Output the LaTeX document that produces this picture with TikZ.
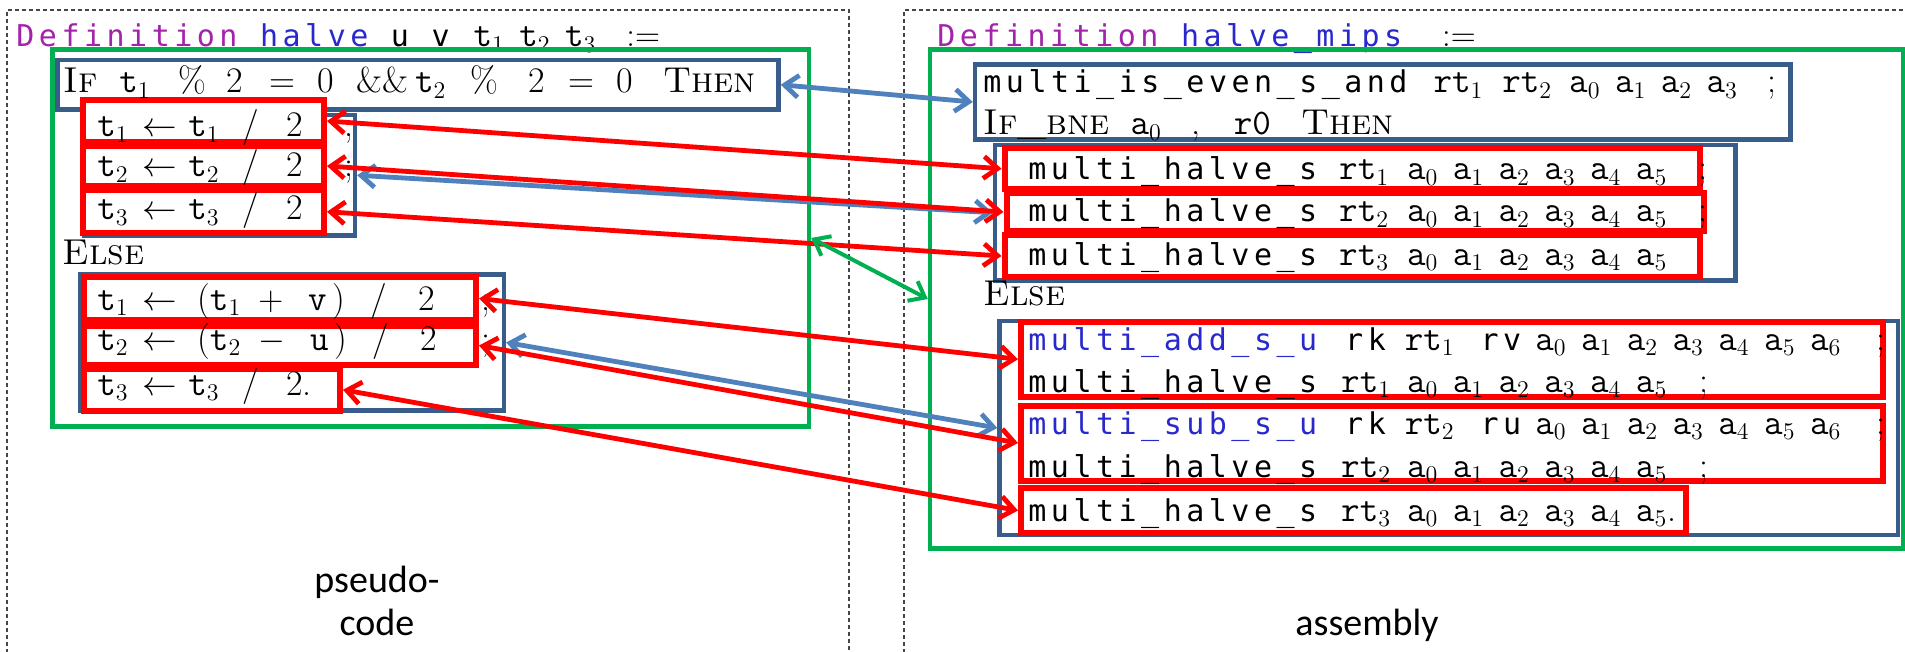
\documentclass[tikz,border=0pt]{standalone}
\usepackage{fontspec}
\usepackage{tikz}
\usetikzlibrary{arrows.meta, fit, positioning}

\newfontfamily\coqfont[LetterSpace=15]{DejaVu Sans Mono}
\newfontfamily\notefont{Carlito}

\definecolor{kwpurple}{RGB}{163,35,170}
\definecolor{idblue}{RGB}{40,40,205}
\definecolor{boxblue}{RGB}{56,93,138}
\definecolor{arrblue}{RGB}{79,129,189}
\definecolor{boxgreen}{RGB}{0,176,80}
\definecolor{dashgray}{RGB}{70,70,70}

% one picture unit = half a point
\newlength{\pxu}\setlength{\pxu}{0.5pt}
\newcommand{\gap}[1]{\hspace*{#1\pxu}}
\newcommand{\coq}[1]{{\fontsize{15}{17}\coqfont #1}}
\newcommand{\tv}[2]{$\mathtt{#1}_{#2}$}
\newcommand{\ar}[1]{\tv{a}{#1}\gap{14.5}}

\begin{document}
\begin{tikzpicture}[x=0.5pt, y=-0.5pt,
    code/.style={anchor=base west, inner sep=0pt, font=\fontsize{18}{22}\selectfont},
    gbox/.style={draw=boxgreen, line width=2.2pt, inner sep=0pt},
    bbox/.style={draw=boxblue, line width=2.2pt, inner sep=0pt},
    rbox/.style={draw=red, fill=white, line width=3pt, inner sep=0pt},
    link/.style={line width=2.4pt, >={Straight Barb[length=7pt,width=11pt]}, <->},
    panel/.style={dashgray, line width=0.8pt, dash pattern=on 2pt off 1.5pt},
    note/.style={anchor=base, inner sep=0pt, font=\notefont\fontsize{19}{23}\selectfont}]

  \useasboundingbox (0,0) rectangle (1905,652);
  \clip (0,0) rectangle (1905,652);
  \fill[white] (0,0) rectangle (1905,652);

  % the two dashed panels
  \draw[panel] (7,660) -- (7,10) -- (849,10) -- (849,660);
  \draw[panel] (904,660) -- (904,10) -- (1910,10);

  % headers
  \node[code] (defL) at (16,47) {\coq{\textcolor{kwpurple}{Definition} \textcolor{idblue}{halve} u v}\gap{24}\tv{t}{1}\gap{14.5}\tv{t}{2}\gap{14.5}\tv{t}{3}\gap{30}$:=$};
  \node[code] (defR) at (937,47) {\coq{\textcolor{kwpurple}{Definition} \textcolor{idblue}{halve\_mips}}\gap{40}$:=$};

  % green: whole bodies
  \node[gbox, fit={(52.5,49.5) (809,426.5)}] (gL) {};
  \node[gbox, fit={(930,49.5) (1903,548.5)}] (gR) {};

  % blue: test and branches
  \node[bbox, fit={(57.5,60) (778.5,109.5)}] (bIfL) {};
  \node[bbox, fit={(84,115) (355,235.5)}] (bThenL) {};
  \node[bbox, fit={(80.5,274.5) (504,410.5)}] (bElseL) {};
  \node[bbox, fit={(975,64.5) (1790.5,139.5)}] (bIfR) {};
  \node[bbox, fit={(995,145) (1735.5,280.5)}] (bThenR) {};
  \node[bbox, fit={(999.5,321) (1898,535)}] (bElseR) {};

  % red: single statements
  \node[rbox, fit={(83,100) (324,142)}] (tL1) {};
  \node[rbox, fit={(83,146) (324,186)}] (tL2) {};
  \node[rbox, fit={(83,190) (324,233.5)}] (tL3) {};
  \node[rbox, fit={(84,277) (476,320)}] (eL1) {};
  \node[rbox, fit={(84,326) (476,365)}] (eL2) {};
  \node[rbox, fit={(84,369) (340,410.5)}] (eL3) {};
  \node[rbox, fit={(1004.5,148.5) (1699.5,189)}] (tR1) {};
  \node[rbox, fit={(1006.5,193) (1703.5,231)}] (tR2) {};
  \node[rbox, fit={(1004.5,235) (1699.5,277)}] (tR3) {};
  \node[rbox, fit={(1021,321.5) (1883,397)}] (eR1) {};
  \node[rbox, fit={(1021,405.5) (1883,480.5)}] (eR2) {};
  \node[rbox, fit={(1021,488) (1686,533)}] (eR3) {};

  % pseudo-code
  \node[code] (ifL) at (63,93) {\textsc{If}\gap{22}\tv{t}{1}\gap{28}\%\gap{20}2\gap{27}=\gap{22}0\gap{22}\&\&\gap{7}\tv{t}{2}\gap{24}\%\gap{30}2\gap{24}=\gap{22}0\gap{30}\textsc{Then}};
  \node[code] (stL1) at (97,137) {\tv{t}{1}\gap{14}$\leftarrow$\gap{11}\tv{t}{1}\gap{23}/\gap{27}2};
  \node[code] (stL2) at (97,177) {\tv{t}{2}\gap{14}$\leftarrow$\gap{11}\tv{t}{2}\gap{23}/\gap{27}2};
  \node[code] (stL3) at (97,220) {\tv{t}{3}\gap{14}$\leftarrow$\gap{11}\tv{t}{3}\gap{23}/\gap{27}2};
  \node[code] (scL1) at (344,137) {;};
  \node[code] (scL2) at (344,177) {;};
  \node[code] (elseL) at (62,264) {\textsc{Else}};
  \node[code] (stL4) at (97,310) {\tv{t}{1}\gap{14}$\leftarrow$\gap{20}(\tv{t}{1}\gap{17}$+$\gap{25}$\mathtt{v}$\gap{6})\gap{25}/\gap{32}2};
  \node[code] (stL5) at (97,350) {\tv{t}{2}\gap{14}$\leftarrow$\gap{20}(\tv{t}{2}\gap{17}$-$\gap{25}$\mathtt{u}$\gap{6})\gap{25}/\gap{32}2};
  \node[code] (stL6) at (97,395) {\tv{t}{3}\gap{14}$\leftarrow$\gap{11}\tv{t}{3}\gap{23}/\gap{27}2.};
  \node[code] (scL4) at (481,310) {;};
  \node[code] (scL5) at (481,350) {;};

  % assembly
  \node[code] (ifR1) at (983,93) {\coq{multi\_is\_even\_s\_and}\gap{26}\tv{rt}{1}\gap{19}\tv{rt}{2}\gap{17}\ar0\ar1\ar2\tv{a}{3}\gap{30};};
  \node[code] (ifR2) at (983,135) {\textsc{If\_bne}\gap{21}\tv{a}{0}\gap{30},\gap{33}$\mathtt{r0}$\gap{30}\textsc{Then}};
  \node[code] (stR1) at (1028,180) {\coq{multi\_halve\_s}\gap{22}\tv{rt}{1}\gap{18}\ar0\ar1\ar2\ar3\ar4\tv{a}{5}\gap{31};};
  \node[code] (stR2) at (1028,222) {\coq{multi\_halve\_s}\gap{22}\tv{rt}{2}\gap{18}\ar0\ar1\ar2\ar3\ar4\tv{a}{5}\gap{31};};
  \node[code] (stR3) at (1028,265) {\coq{multi\_halve\_s}\gap{22}\tv{rt}{3}\gap{18}\ar0\ar1\ar2\ar3\ar4\tv{a}{5}};
  \node[code] (elseR) at (983,306) {\textsc{Else}};
  \node[code] (stR4) at (1028,350) {\coq{\textcolor{idblue}{multi\_add\_s\_u}}\gap{28}\coq{rk}\gap{19}\tv{rt}{1}\gap{26}\coq{rv}\gap{14}\ar0\ar1\ar2\ar3\ar4\ar5\tv{a}{6}\gap{35};};
  \node[code] (stR5) at (1028,392) {\coq{multi\_halve\_s}\gap{24}\tv{rt}{1}\gap{16}\ar0\ar1\ar2\ar3\ar4\tv{a}{5}\gap{32};};
  \node[code] (stR6) at (1028,434) {\coq{\textcolor{idblue}{multi\_sub\_s\_u}}\gap{28}\coq{rk}\gap{19}\tv{rt}{2}\gap{26}\coq{ru}\gap{14}\ar0\ar1\ar2\ar3\ar4\ar5\tv{a}{6}\gap{35};};
  \node[code] (stR7) at (1028,477) {\coq{multi\_halve\_s}\gap{24}\tv{rt}{2}\gap{16}\ar0\ar1\ar2\ar3\ar4\tv{a}{5}\gap{32};};
  \node[code] (stR8) at (1028,521) {\coq{multi\_halve\_s}\gap{24}\tv{rt}{3}\gap{16}\ar0\ar1\ar2\ar3\ar4\tv{a}{5}.};

  % correspondences
  \draw[link, arrblue] (bIfL.east) -- (bIfR.west);
  \draw[link, red] (tL1.east) -- (tR1.west);
  \draw[link, arrblue] (bThenL.east) -- (bThenR.west);
  \draw[link, red] (tL2.east) -- (tR2.west);
  \draw[link, red] (tL3.east) -- (tR3.west);
  \draw[link, boxgreen, line width=2pt] (gL.east) -- (gR.west);
  \draw[link, red] (eL1.east) -- (eR1.west);
  \draw[link, arrblue] (bElseL.east) -- (bElseR.west);
  \draw[link, red] (eL2.east) -- (eR2.west);
  \draw[link, red] (eL3.east) -- (eR3.west);

  % captions
  \node[note] (capA) at (377,592) {pseudo-};
  \node[note] (capB) at (377,635) {code};
  \node[note] (capC) at (1367,635) {assembly};
\end{tikzpicture}
\end{document}
